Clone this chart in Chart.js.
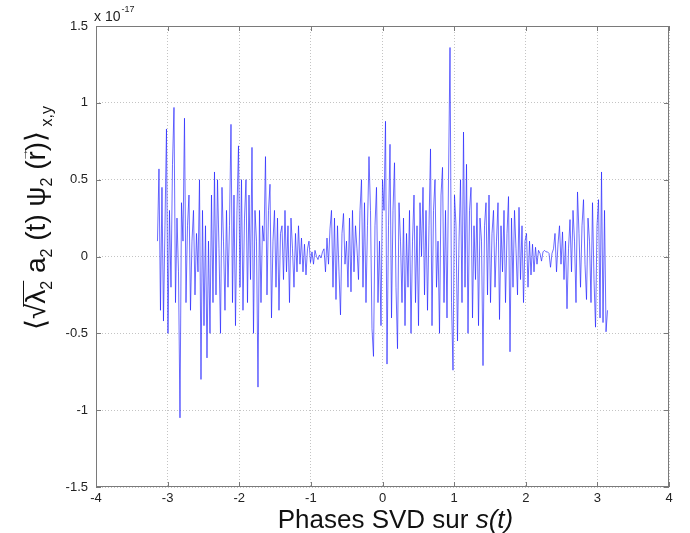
<!DOCTYPE html>
<html>
<head>
<meta charset="utf-8">
<script src="https://cdn.jsdelivr.net/npm/chart.js@4.4.0/dist/chart.umd.min.js"></script>
<style>
  html, body { margin: 0; padding: 0; background: #fff; }
  #wrap { width: 690px; height: 533px; }
</style>
</head>
<body>
<div id="wrap"><canvas id="chart" width="690" height="533"></canvas></div>
<script>
// values in units of 1e-17, sampled evenly over phases -pi..pi
const lobeLeft = [
  0.1, 0.57, -0.35, 0.45, -0.42, 0.2, 0.83, -0.5, 0.3, -0.2, 0.6, 0.97,
  -0.3, 0.25, -0.1, -1.05, 0.35, 0.1, 0.9, -0.3, 0.2, 0.4, -0.35, 0.1,
  0.3, -0.25, 0.15, -0.1, 0.5, -0.8, 0.3, -0.45, 0.2, -0.66, 0.1, -0.5,
  0.4, -0.3, 0.55, -0.25, 0.5, 0.05, -0.5, 0.45, 0.1, -0.35, 0.3, -0.2,
  0.2, 0.86, -0.3, 0.4, -0.45, 0.3, 0.72, -0.2, 0.5, -0.35, 0.25, 0.5,
  -0.3, 0.4, -0.15, 0.71, -0.5, 0.3, 0.1, -0.85, 0.3, -0.3, 0.2, 0.1,
  0.65, -0.25, 0.3, 0.47, -0.4, 0.1, 0.3, -0.2, 0.25, -0.35, 0.15, 0.2
];
const quietLeft = [
  -0.15, 0.3, -0.1, 0.2, -0.3, 0.25, 0.05, -0.2, 0.15, -0.1, 0.2, -0.05,
  0.12, -0.1, 0.08, -0.12, 0.05, 0.1, -0.04, 0.03, -0.05, 0.04, 0.0, -0.02,
  0.01, -0.01, 0.03, 0.05, -0.1, 0.12, -0.05, 0.18, 0.3, -0.2, 0.25, -0.28
];
const lobeCenter = [
  0.2, -0.1, -0.38, 0.15, 0.28, -0.05, 0.1, -0.2, 0.25, -0.23, 0.3, -0.1,
  0.2, 0.05, -0.15, 0.3, 0.5, -0.2, 0.35, -0.3, 0.2, 0.65, 0.3, -0.47,
  -0.65, 0.2, 0.45, -0.3, 0.1, -0.45, 0.5, 0.3, 0.88, -0.7, 0.2, 0.73,
  -0.4, 0.3, 0.61, -0.2, -0.6, 0.35, 0.1, -0.3, 0.25, -0.45, 0.15, -0.2,
  0.3, -0.5, 0.1, 0.4, -0.3, 0.2, -0.45, 0.35, 0.0, 0.45, -0.25, 0.3,
  -0.35, 0.2, 0.7, -0.45, 0.3, 0.5, -0.2, 0.1, -0.5, 0.4, 0.58, -0.3,
  0.3, -0.4, 0.5, 1.36, -0.3, -0.74, 0.4, 0.2, -0.55, 0.1, 0.5, -0.3,
  0.81, -0.2, 0.6, -0.5, 0.3, 0.45, -0.4, 0.2, -0.15, 0.35, -0.45, 0.25,
  0.1, -0.71, 0.2, 0.35, -0.25, 0.4, -0.3, 0.15, 0.3, -0.2, 0.1, 0.35,
  -0.41, 0.2, -0.1, 0.3, -0.3, 0.15, 0.39, -0.62, 0.25, -0.2, 0.3, 0.05
];
const quietRight = [
  -0.25, 0.32, -0.15, 0.2, -0.3, 0.1, 0.15, -0.2, 0.1, -0.12, 0.08, -0.1,
  0.06, -0.05, 0.04, 0.02, -0.03, 0.03, 0.04, 0.03, 0.03, 0.02, -0.07, 0.02
];
const lobeRight = [
  0.05, 0.15, -0.1, 0.08, 0.2, -0.05, 0.16, -0.15, 0.1, -0.34, 0.05, 0.24,
  -0.1, 0.3, 0.1, -0.3, 0.42, 0.15, -0.2, 0.2, 0.37, -0.05, -0.28, 0.25,
  0.1, -0.3, 0.35, -0.15, -0.46, 0.2, 0.37, -0.4, 0.55, -0.43, 0.3, -0.49, -0.35
];

const xTicks = [-4, -3, -2, -1, 0, 1, 2, 3, 4];
const yTicks = [-1.5, -1, -0.5, 0, 0.5, 1, 1.5];
const xTitle = 'Phases SVD sur ';
const xTitleItalic = 's(t)';
const yExponent = '-17';

const signal = [].concat(lobeLeft, quietLeft, lobeCenter, quietRight, lobeRight);
const points = signal.map((v, i) => ({
  x: -Math.PI + (2 * Math.PI * i) / (signal.length - 1),
  y: v
}));

const FONT = "'Liberation Sans', Arial, sans-serif";
const gridColor = '#c4c4c4';
const axisColor = '#7a7a7a';

// box, inward ticks, exponent and axis titles (MATLAB look)
const matlabAxes = {
  id: 'matlabAxes',
  afterDraw(chart) {
    const { ctx, chartArea: a, scales } = chart;
    ctx.save();
    ctx.strokeStyle = axisColor;
    ctx.lineWidth = 1;
    ctx.strokeRect(a.left + 0.5, a.top + 0.5, a.right - a.left - 1, a.bottom - a.top - 1);

    ctx.beginPath();
    xTicks.forEach(t => {
      const px = Math.round(scales.x.getPixelForValue(t)) + 0.5;
      ctx.moveTo(px, a.bottom); ctx.lineTo(px, a.bottom - 5);
      ctx.moveTo(px, a.top); ctx.lineTo(px, a.top + 5);
    });
    yTicks.forEach(t => {
      const py = Math.round(scales.y.getPixelForValue(t)) + 0.5;
      ctx.moveTo(a.left, py); ctx.lineTo(a.left + 5, py);
      ctx.moveTo(a.right, py); ctx.lineTo(a.right - 5, py);
    });
    ctx.stroke();

    // exponent
    ctx.fillStyle = '#222';
    ctx.textBaseline = 'alphabetic';
    ctx.textAlign = 'left';
    ctx.font = '14px ' + FONT;
    ctx.fillText('x 10', a.left - 2, 21);
    const w10 = ctx.measureText('x 10').width;
    ctx.font = '9px ' + FONT;
    ctx.fillText(yExponent, a.left - 2 + w10 + 1, 12);

    // x title
    ctx.font = '26px ' + FONT;
    const w1 = ctx.measureText(xTitle).width;
    ctx.font = 'italic 26px ' + FONT;
    const w2 = ctx.measureText(xTitleItalic).width;
    const cx = (a.left + a.right) / 2 + 13;
    let sx = cx - (w1 + w2) / 2;
    ctx.fillStyle = '#111';
    ctx.font = '26px ' + FONT;
    ctx.fillText(xTitle, sx, 528);
    ctx.font = 'italic 26px ' + FONT;
    ctx.fillText(xTitleItalic, sx + w1, 528);

    // y title, rotated
    const big = '28px ' + FONT;
    const small = '16px ' + FONT;
    const parts = [
      { t: '\u27E8', f: big },
      { t: '\u221A', f: big, barStart: true },
      { t: '\u03BB', f: big },
      { t: '2', f: small, sub: true, barEnd: true },
      { t: ' a', f: big },
      { t: '2', f: small, sub: true },
      { t: ' (t) ', f: big },
      { t: '\u03C8', f: big },
      { t: '2', f: small, sub: true },
      { t: ' (', f: big },
      { t: 'r', f: big, arrow: true },
      { t: ')', f: big },
      { t: '\u27E9', f: big },
      { t: ' x,y', f: small, sub: true }
    ];
    let total = 0;
    parts.forEach(p => { ctx.font = p.f; p.w = ctx.measureText(p.t).width; total += p.w; });
    ctx.translate(45, 218);
    ctx.rotate(-Math.PI / 2);
    let px = -total / 2;
    let barX0 = 0;
    parts.forEach(p => {
      ctx.font = p.f;
      ctx.fillText(p.t, px, p.sub ? 7 : 0);
      if (p.barStart) barX0 = px + p.w * 0.8;
      if (p.barEnd) {
        ctx.beginPath();
        ctx.strokeStyle = '#111';
        ctx.moveTo(barX0, -21.5); ctx.lineTo(px + p.w, -21.5);
        ctx.stroke();
      }
      if (p.arrow) {
        ctx.font = '13px ' + FONT;
        ctx.fillText('\u2192', px - 1, -17);
      }
      px += p.w;
    });
    ctx.restore();
  }
};

new Chart(document.getElementById('chart'), {
  type: 'line',
  data: {
    datasets: [{
      data: points,
      borderColor: 'rgba(30, 30, 255, 0.65)',
      borderWidth: 1,
      pointRadius: 0,
      tension: 0,
      fill: false
    }]
  },
  plugins: [matlabAxes],
  options: {
    responsive: false,
    animation: false,
    events: [],
    layout: { padding: { left: 0, right: 21, top: 26, bottom: 0 } },
    plugins: { legend: { display: false }, tooltip: { enabled: false } },
    scales: {
      x: {
        type: 'linear',
        min: -4, max: 4,
        afterFit(scale) { scale.height = 46; },
        afterBuildTicks(scale) { scale.ticks = xTicks.map(v => ({ value: v })); },
        grid: { color: gridColor, drawTicks: false, lineWidth: 1 },
        border: { display: false, dash: [1, 2] },
        ticks: {
          color: '#222',
          font: { family: FONT, size: 13 },
          padding: 4,
          callback: v => String(v)
        }
      },
      y: {
        type: 'linear',
        min: -1.5, max: 1.5,
        afterFit(scale) { scale.width = 96; },
        afterBuildTicks(scale) { scale.ticks = yTicks.map(v => ({ value: v })); },
        grid: { color: gridColor, drawTicks: false, lineWidth: 1 },
        border: { display: false, dash: [1, 2] },
        ticks: {
          color: '#222',
          font: { family: FONT, size: 13 },
          padding: 8,
          callback: v => String(v)
        }
      }
    }
  }
});
</script>
</body>
</html>
